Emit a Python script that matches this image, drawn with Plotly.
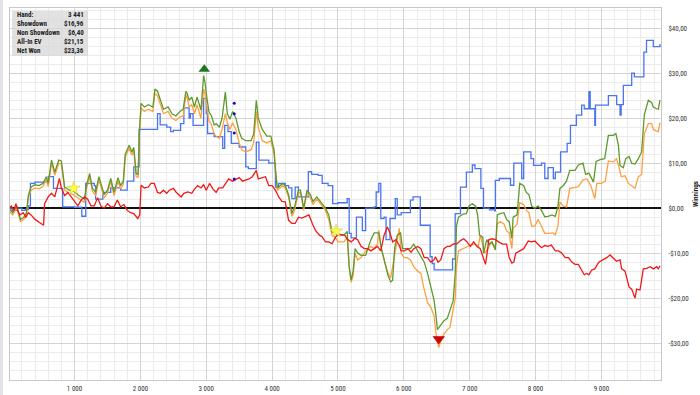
import plotly.graph_objects as go

# ---------------- data (hands, winnings $) ----------------
showdown_pts = [(0,0),(50,-0.5),(120,0),(200,-0.5),(250,-0.3),(300,0.5),(330,5.5),(400,5.8),(480,5.8),(560,6),(600,7),(680,4.4),(750,4.4),(820,0.3),(900,0.3),(1000,0.2),(1080,0.2),(1110,-1.8),(1150,-1.8),(1170,5.5),(1300,5),(1320,2),(1420,2),(1430,3.5),(1550,4.5),(1700,4),(1800,6),(1900,9.2),(1980,17.5),(2100,17.5),(2200,17.5),(2260,21),(2300,18.5),(2400,18),(2460,17),(2500,17.3),(2600,17.3),(2610,18.8),(2660,22.3),(2740,20),(2760,21),(2800,18.4),(2950,18.4),(2960,24.4),(3000,21),(3020,16.6),(3080,16.6),(3120,15.9),(3230,15.9),(3250,13.3),(3280,18.4),(3330,17),(3380,14.4),(3460,14.4),(3500,13.6),(3600,9.2),(3640,8.8),(3750,8.8),(3760,14.7),(3800,10.7),(3900,10.7),(3950,10),(4030,10),(4050,4.7),(4100,5.5),(4200,5),(4250,4.5),(4300,2.1),(4350,4.7),(4400,2.5),(4500,2.5),(4550,8.1),(4600,7.5),(4700,7.3),(4760,5.5),(4850,5),(4920,1),(5000,1.2),(5100,1.2),(5140,2.1),(5170,-5.6),(5200,-6.6),(5260,-6.6),(5280,-2),(5340,-2),(5370,-5),(5410,-5),(5420,0),(5550,0.3),(5580,3.6),(5620,5.5),(5650,-2.3),(5700,-2),(5730,-7),(5770,-7),(5790,-2.3),(5850,-2.3),(5870,2.1),(5900,-1.5),(5960,-1),(6060,-1),(6100,1.8),(6140,2.5),(6230,2.5),(6250,-3.8),(6380,-3.8),(6400,-10.8),(6430,-12.3),(6460,-13.7),(6700,-13.7),(6740,-11.3),(6780,-1.2),(6840,-1.2),(6860,4.7),(6930,4.7),(6950,8),(7040,9.6),(7080,8.8),(7150,8.8),(7170,4.4),(7210,0),(7300,-0.4),(7380,-0.6),(7390,6.2),(7450,6.6),(7600,6.6),(7620,5.1),(7670,10),(7760,10),(7790,6.6),(7820,12.5),(7900,12.5),(7930,11),(7970,9.5),(8080,9.5),(8090,10),(8140,6.6),(8190,9),(8240,9),(8270,6.6),(8300,8),(8370,8),(8380,12.5),(8460,12.5),(8480,14.4),(8520,14.4),(8530,18.4),(8610,18.4),(8620,20.7),(8690,20.7),(8700,22.9),(8740,22.1),(8800,22.1),(8810,25.9),(8830,22.1),(8880,22.1),(8900,18.4),(8910,22.9),(9100,22.9),(9106,25),(9220,25),(9232,23),(9270,23),(9283,20.7),(9300,23),(9333,27.3),(9450,27.3),(9460,30),(9500,29.2),(9630,29.2),(9645,34.7),(9685,37.3),(9775,37.3),(9788,35.9),(9870,35.9),(9890,36.5)]

all_in_ev_pts = [(0,-0.5),(60,-1.5),(120,0),(180,-3),(230,-2.5),(270,-1.5),(300,2.5),(340,4),(400,4.5),(460,4.3),(520,4.8),(570,6.3),(600,4.8),(650,10),(700,7.3),(760,10),(800,9.8),(850,4),(920,3.3),(985,3),(1050,2.3),(1100,1.8),(1150,1.3),(1180,4.3),(1230,7),(1270,3.8),(1320,2.8),(1370,6.3),(1420,3.8),(1450,2.3),(1500,3.3),(1550,5.9),(1600,2.8),(1660,6),(1700,4.3),(1740,5.3),(1770,11.3),(1830,13.3),(1870,11.8),(1900,12.8),(1935,7),(1965,6.8),(1985,16.3),(2010,22.3),(2060,21.5),(2120,22),(2190,21.5),(2220,25.5),(2260,25),(2300,23),(2350,21),(2420,21.5),(2480,20),(2540,19.5),(2600,20.3),(2650,20.5),(2690,25.2),(2710,24.5),(2740,22.5),(2780,23),(2820,21),(2860,23),(2920,20),(2960,26.5),(2980,25.5),(3010,22.5),(3040,19.5),(3080,18.5),(3120,16.5),(3150,16),(3200,15.5),(3240,17.5),(3290,21),(3320,19),(3360,17.5),(3400,19),(3450,17.5),(3500,14.5),(3540,13),(3600,12.5),(3680,13),(3720,14.5),(3760,21.5),(3790,18),(3850,15),(3920,14.5),(3980,15),(4030,12),(4050,8),(4080,4),(4120,4.5),(4160,5),(4200,4.5),(4250,2.5),(4300,-1.8),(4340,-0.5),(4400,3.3),(4430,3.5),(4480,-0.5),(4530,3.5),(4580,2.3),(4620,0.8),(4680,2),(4730,1),(4810,-0.5),(4860,-2.5),(4910,-6),(4960,-6.5),(5000,-7.5),(5090,-7.5),(5140,-6.5),(5170,-13),(5200,-16.5),(5230,-15),(5260,-10),(5300,-11.5),(5350,-11),(5420,-9.5),(5500,-8.5),(5550,-9),(5600,-8),(5620,-4.9),(5650,-8.5),(5710,-12),(5760,-14.5),(5800,-15.5),(5860,-10),(5900,-7),(5930,-4.5),(5960,-10),(6000,-11),(6050,-11),(6100,-11.5),(6150,-13),(6210,-14),(6260,-14.5),(6300,-17.5),(6360,-21),(6410,-22),(6460,-24),(6490,-28),(6530,-31),(6560,-29.5),(6610,-28),(6660,-27),(6700,-26.5),(6740,-23.5),(6780,-20),(6800,-13),(6830,-9.5),(6900,-9),(6950,-8.7),(7000,-8.3),(7080,-8),(7130,-8.5),(7160,-6),(7200,-8),(7230,-10),(7280,-9),(7330,-7.5),(7370,-8.5),(7400,-8),(7420,-3.5),(7460,-3),(7520,-3.5),(7560,-5),(7600,-5.5),(7640,-9),(7660,-4.5),(7720,-3.5),(7760,1.2),(7820,0.8),(7860,-0.5),(7900,-1),(7940,-4),(7990,-4),(8040,-2.5),(8090,-4),(8140,-5.6),(8210,-5.6),(8260,-5.5),(8300,-5.9),(8340,-4),(8370,1.4),(8420,0.5),(8470,0.3),(8520,4.4),(8600,4.6),(8650,4.8),(8720,6.3),(8780,6.5),(8840,5),(8900,2.1),(8930,5.5),(9000,5.5),(9060,6),(9106,10.5),(9182,10.3),(9230,11),(9270,9),(9300,7),(9359,7.2),(9409,5.5),(9460,5),(9510,4.4),(9561,7),(9611,7.5),(9651,16.5),(9712,18.8),(9763,18.8),(9788,17.5),(9830,17.2),(9864,17),(9890,19)]

net_won_pts = [(0,0),(60,-1),(120,0.5),(180,-2.5),(230,-2),(270,-1),(300,3),(340,4.7),(400,5.2),(460,5),(520,5.5),(570,7),(600,5.5),(650,10.7),(700,8),(760,10.7),(800,10.5),(850,4.7),(920,4),(985,3.8),(1050,3),(1100,2.5),(1150,2),(1180,5),(1230,7.7),(1270,4.5),(1320,3.5),(1370,7),(1420,4.5),(1450,3),(1500,4),(1550,6.6),(1600,3.5),(1660,6.8),(1700,5),(1740,6),(1770,12),(1830,14),(1870,12.5),(1900,13.5),(1935,7.7),(1965,7.5),(1985,17),(2010,23.3),(2060,22.5),(2120,23),(2190,22.5),(2220,26.5),(2260,26),(2300,24),(2350,22),(2420,22.5),(2480,21),(2540,20.5),(2600,21.5),(2650,22),(2690,26),(2710,25.5),(2740,24),(2780,24.7),(2820,22.5),(2860,24.7),(2920,21.8),(2960,29.5),(2980,28),(3010,24.5),(3040,21.5),(3080,20.5),(3120,18.5),(3150,18.8),(3200,18),(3240,20),(3290,25.8),(3320,21),(3360,19.8),(3400,21.5),(3450,20),(3500,17),(3540,15.5),(3600,15),(3680,15),(3720,16.5),(3760,24),(3790,20),(3850,17.5),(3920,16),(3980,16),(4030,12.9),(4050,8.4),(4080,4.5),(4120,5),(4160,5.5),(4200,5),(4250,3),(4300,-1.2),(4340,0.3),(4400,4),(4430,4),(4480,0),(4530,4),(4580,3),(4620,1.5),(4680,2.5),(4730,1.5),(4810,0),(4860,-1.5),(4910,-5.3),(4960,-5.5),(5000,-6),(5090,-6),(5140,-5.2),(5170,-13),(5200,-16),(5230,-14),(5260,-9),(5300,-10),(5350,-10.5),(5420,-10.5),(5500,-7),(5550,-5.5),(5620,-5.5),(5660,-9),(5710,-12),(5760,-15),(5800,-16.4),(5830,-16),(5860,-9),(5900,-6),(5950,-5.5),(5980,-9),(6050,-9),(6100,-9),(6150,-8),(6210,-9.5),(6260,-11),(6310,-12),(6360,-14.5),(6410,-17.5),(6460,-20.5),(6490,-24),(6510,-27),(6560,-26),(6610,-25),(6660,-24.5),(6720,-22),(6750,-20.5),(6780,-14.5),(6800,-4),(6830,-2),(6900,-1.3),(6950,-1.2),(6990,0.5),(7040,1),(7090,0.5),(7120,-1.5),(7150,-6),(7200,-6.5),(7210,-10),(7260,-7),(7300,-8),(7340,-7.5),(7370,-8.5),(7390,-9.3),(7420,-1.5),(7460,-1.2),(7520,-1),(7560,-2.5),(7600,-3),(7640,-6.7),(7660,-2),(7720,-1.5),(7760,5.5),(7820,5),(7860,3.5),(7900,3),(7940,0.5),(7990,0),(8040,0.5),(8090,-0.5),(8140,-1.9),(8190,-1.8),(8250,-1.5),(8300,-1.8),(8340,0.3),(8370,4.4),(8420,5),(8470,6),(8520,8.4),(8600,8.4),(8650,9.6),(8720,10),(8760,7.5),(8810,7.8),(8880,5.8),(8920,10.4),(8980,10.8),(9050,11),(9106,16.2),(9180,16.2),(9220,16.6),(9258,14),(9283,9.5),(9333,9),(9370,11),(9420,11.5),(9460,10),(9510,9.8),(9561,11),(9611,12.5),(9651,20.7),(9712,24),(9763,23.5),(9788,22.5),(9840,22.1),(9864,22),(9890,24)]

non_showdown_pts = [(0,0),(40,0.5),(80,-0.5),(110,1),(140,-0.5),(170,-1.5),(220,-1),(260,-2),(300,-1),(340,-1.5),(400,-2.5),(460,-3),(490,-3.4),(530,-3.8),(545,1),(600,2.5),(650,3.3),(700,2.5),(770,6.6),(800,4.5),(850,2.8),(900,3.5),(950,2.5),(1000,1.5),(1050,0.5),(1100,1.8),(1150,2.5),(1200,2),(1250,0.5),(1300,0.5),(1350,2.3),(1400,0.5),(1450,0),(1500,1),(1550,0.3),(1600,0.3),(1650,1.8),(1700,0.3),(1750,0.8),(1800,-0.5),(1850,-1),(1900,-1.2),(1930,-1.8),(1960,-2.3),(1990,-1.5),(2010,5.1),(2060,4.5),(2120,4.7),(2160,5.5),(2210,5.5),(2260,3.5),(2300,3.3),(2350,4),(2400,3.3),(2440,4),(2500,4.4),(2540,3.6),(2580,3),(2620,2.5),(2660,3.3),(2720,3.6),(2780,3.3),(2820,4.2),(2870,5),(2920,4.5),(2960,5.2),(3000,4),(3050,5.5),(3100,4.3),(3150,3.5),(3190,4.5),(3250,4.5),(3300,5.5),(3340,6.5),(3400,6),(3440,6.3),(3500,6.8),(3550,6),(3600,6.3),(3650,6.5),(3700,7),(3760,8.4),(3790,6.5),(3850,6.8),(3900,7),(3950,5),(4000,5),(4050,4),(4100,2.5),(4150,1.5),(4200,1.4),(4250,-2.7),(4300,-3.4),(4350,-3.4),(4400,-2),(4450,-2.2),(4500,-1.8),(4560,-1.5),(4610,-3.4),(4660,-5),(4720,-6),(4760,-6.4),(4810,-7.5),(4860,-7.5),(4910,-7.9),(4960,-6.5),(5000,-5.8),(5060,-6),(5100,-6),(5150,-7),(5200,-7.5),(5260,-6.7),(5300,-7),(5350,-8.5),(5400,-9),(5450,-9),(5500,-9.5),(5550,-9),(5600,-8.5),(5650,-9.5),(5700,-6),(5750,-4.2),(5790,-5.5),(5830,-7.5),(5880,-7),(5930,-8.3),(5960,-9.5),(6010,-9.5),(6060,-9),(6110,-9.8),(6150,-9),(6210,-8.5),(6260,-9),(6310,-11),(6360,-11),(6410,-12),(6460,-11.5),(6480,-10.8),(6520,-12),(6560,-11.5),(6610,-9),(6660,-8.5),(6700,-8.5),(6760,-7.9),(6800,-8),(6860,-7.2),(6910,-6.8),(6960,-7.5),(7010,-8.5),(7060,-7.5),(7110,-8.5),(7160,-9),(7200,-11),(7240,-12.5),(7260,-10.5),(7290,-7),(7340,-6.8),(7390,-7),(7440,-7.5),(7500,-8),(7560,-8),(7600,-11),(7640,-12.2),(7670,-12),(7700,-10),(7760,-9.5),(7820,-9),(7890,-7.3),(7940,-7.5),(7990,-7.3),(8040,-8),(8090,-8.8),(8140,-8.3),(8190,-8.5),(8240,-8.2),(8300,-9.5),(8350,-9.5),(8400,-10),(8450,-11),(8500,-11),(8550,-12),(8600,-12.5),(8650,-12.5),(8690,-13.5),(8740,-14.8),(8780,-14.5),(8810,-14.8),(8850,-13.8),(8900,-13.5),(8960,-12),(9010,-11.6),(9080,-11),(9131,-10.4),(9180,-11),(9230,-11.8),(9283,-11.5),(9308,-13.5),(9359,-14),(9390,-15.5),(9420,-17.5),(9460,-18),(9490,-19),(9510,-20),(9535,-18),(9586,-18.2),(9610,-16),(9636,-13.5),(9687,-13.4),(9740,-13),(9790,-13.5),(9840,-13),(9864,-13.5),(9890,-12.8)]

max_marker = (2970, 30.9)
min_marker = (6530, -29.1)
star_markers = [(985, 4.4), (4970, -5.1)]
dot_markers = [(3425, 23.3), (3425, 21.0), (3425, 16.7), (3425, 6.5)]

stat_labels = ["Hand:", "Showdown", "Non Showdown", "All-In EV", "Net Won"]
stat_values = ["3 441", "$16,96", "$6,40", "$21,15", "$23,36"]

x_ticks = [1000, 2000, 3000, 4000, 5000, 6000, 7000, 8000, 9000]
x_labels = ["1 000", "2 000", "3 000", "4 000", "5 000", "6 000", "7 000", "8 000", "9 000"]
y_ticks = [-30, -20, -10, 0, 10, 20, 30, 40]
y_labels = ["-$30,00", "-$20,00", "-$10,00", "$0,00", "$10,00", "$20,00", "$30,00", "$40,00"]

# ---------------- figure ----------------
W, H = 700, 395
ML, MR, MT, MB = 10, 39, 8, 15
PW, PH = W - ML - MR, H - MT - MB
NARROW = "Liberation Sans Narrow, Roboto Condensed, Liberation Sans"

def px(x):
    return (x - ML) / PW

def py(y):
    return (H - MB - y) / PH

fig = go.Figure()

series = [
    ("Showdown", showdown_pts, "#4a74f0", "hv"),
    ("All-In EV", all_in_ev_pts, "#ffa040", "linear"),
    ("Net Won", net_won_pts, "#5e9a2e", "linear"),
    ("Non Showdown", non_showdown_pts, "#f01818", "linear"),
]
for name, pts, color, shape in series:
    fig.add_trace(go.Scatter(
        x=[p[0] for p in pts], y=[p[1] for p in pts], name=name,
        mode="lines", line=dict(color=color, width=1.3, shape=shape),
        hoverinfo="skip", showlegend=False))

fig.add_trace(go.Scatter(x=[d[0] for d in dot_markers], y=[d[1] for d in dot_markers],
                         mode="markers", marker=dict(size=3, color="#1010c0"),
                         showlegend=False, hoverinfo="skip"))
fig.add_trace(go.Scatter(x=[max_marker[0]], y=[max_marker[1]], mode="markers",
                         marker=dict(symbol="triangle-up", size=10, color="#1c7a1c"),
                         showlegend=False, hoverinfo="skip"))
fig.add_trace(go.Scatter(x=[min_marker[0]], y=[min_marker[1]], mode="markers",
                         marker=dict(symbol="triangle-down", size=10, color="#d80000",
                                     line=dict(color="#900000", width=0.5)),
                         showlegend=False, hoverinfo="skip"))
fig.add_trace(go.Scatter(x=[s[0] for s in star_markers], y=[s[1] for s in star_markers],
                         mode="markers",
                         marker=dict(symbol="star", size=10, color="#ffff40",
                                     line=dict(color="#d0c850", width=0.6)),
                         showlegend=False, hoverinfo="skip"))

shapes = [
    dict(type="rect", xref="paper", yref="paper", x0=px(0), x1=px(3), y0=py(H), y1=py(0),
         fillcolor="#e2e2e8", line=dict(width=0), layer="above"),
    dict(type="rect", xref="paper", yref="paper", x0=px(12), x1=px(88), y0=py(56), y1=py(11),
         fillcolor="rgba(215,215,215,0.75)", line=dict(width=0), layer="above"),
]

annotations = []
row_y = [15.5, 24.3, 33.1, 42.0, 50.8]
for lab, val, yy in zip(stat_labels, stat_values, row_y):
    annotations.append(dict(xref="paper", yref="paper", x=px(15), y=py(yy), text="<b>" + lab + "</b>",
                            showarrow=False, xanchor="left", yanchor="middle",
                            font=dict(size=7, color="#222222", family=NARROW)))
    annotations.append(dict(xref="paper", yref="paper", x=px(86), y=py(yy), text="<b>" + val + "</b>",
                            showarrow=False, xanchor="right", yanchor="middle",
                            font=dict(size=7, color="#222222", family=NARROW)))

fig.update_layout(
    width=W, height=H,
    margin=dict(l=ML, r=MR, t=MT, b=MB, pad=0, autoexpand=False),
    paper_bgcolor="white", plot_bgcolor="white",
    font=dict(family=NARROW, size=7, color="#333333"),
    shapes=shapes, annotations=annotations,
    hovermode=False, showlegend=False,
    xaxis=dict(range=[20, 9905], tickmode="array", tickvals=x_ticks, ticktext=x_labels,
               automargin=False,
               showgrid=True, gridcolor="#d4d4d4", gridwidth=1,
               minor=dict(tickmode="linear", tick0=0, dtick=200, showgrid=True, gridcolor="#ebebeb"),
               showline=True, linecolor="#c8c8c8", linewidth=1, mirror=True,
               zeroline=False, ticks="", ticklabelstandoff=2, tickfont=dict(size=7, color="#333333")),
    yaxis=dict(range=[-38.2, 44.5], side="right", tickmode="array", tickvals=y_ticks, ticktext=y_labels,
               automargin=False,
               showgrid=True, gridcolor="#d4d4d4", gridwidth=1,
               minor=dict(tickmode="linear", tick0=0, dtick=2, showgrid=True, gridcolor="#ebebeb"),
               showline=True, linecolor="#c8c8c8", linewidth=1, mirror=True,
               zeroline=True, zerolinecolor="#111111", zerolinewidth=1.8,
               ticks="", ticklabelstandoff=5, tickfont=dict(size=7, color="#333333"),
               title=dict(text="<b>Winnings</b>", font=dict(size=7, color="#222222"), standoff=8)),
)

fig.write_html("out.html")
